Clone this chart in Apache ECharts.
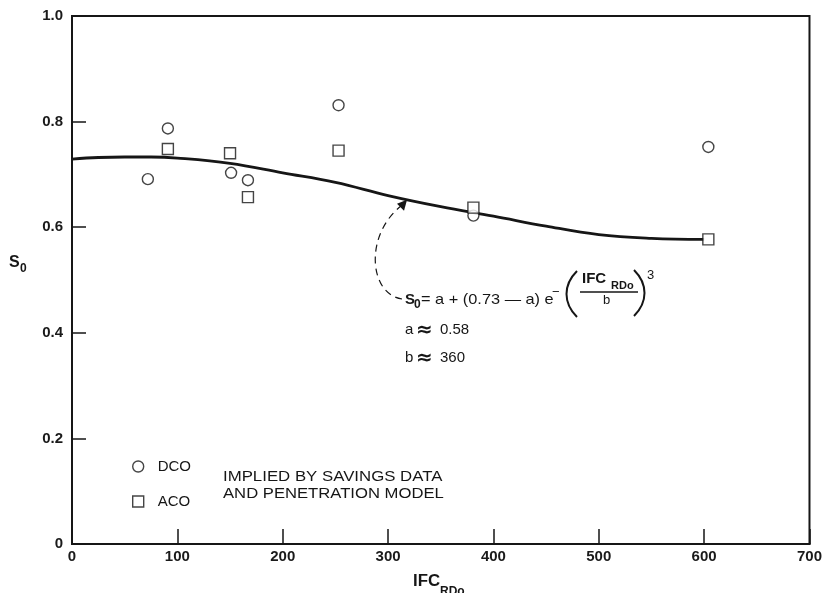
<!DOCTYPE html>
<html>
<head>
<meta charset="utf-8">
<script src="https://cdn.jsdelivr.net/npm/echarts@6/dist/echarts.min.js"></script>
<style>
html,body{margin:0;padding:0;background:#fff;}
#c{width:825px;height:593px;}
</style>
</head>
<body>
<div id="c"></div>
<script>
// ---- data ----
const dcoX = [72, 91, 151, 167, 253, 381, 604];
const dcoY = [0.691, 0.787, 0.703, 0.689, 0.831, 0.622, 0.752];
const acoX = [91, 150, 167, 253, 381, 604];
const acoY = [0.748, 0.740, 0.657, 0.745, 0.637, 0.577];
const curveX = [0, 25, 50, 75, 100, 150, 200, 250, 300, 350, 400, 450, 500, 550, 600];
const curveY = [0.729, 0.732, 0.733, 0.733, 0.731, 0.721, 0.703, 0.685, 0.660, 0.639, 0.621, 0.602, 0.586, 0.579, 0.577];
const xTicks = [0, 100, 200, 300, 400, 500, 600, 700];
const yTickLabels = ['0', '0.2', '0.4', '0.6', '0.8', '1.0'];

const FONT = '"Liberation Sans", Arial, Helvetica, sans-serif';
const INK = '#161616';

const zip = (xs, ys) => xs.map((x, i) => [x, ys[i]]);

const chart = echarts.init(document.getElementById('c'), null, {renderer: 'canvas'});

const option = {
  animation: false,
  backgroundColor: '#fff',
  grid: {left: 72, right: 14, top: 16, bottom: 49, show: true, borderColor: INK, borderWidth: 2, backgroundColor: 'transparent'},
  xAxis: {
    type: 'value', min: 0, max: 700, interval: 100,
    axisLine: {show: true, lineStyle: {color: INK, width: 2}},
    axisTick: {show: true, inside: true, length: 15, lineStyle: {color: INK, width: 1.5}},
    axisLabel: {color: '#1a1a1a', fontFamily: FONT, fontSize: 15, fontWeight: 'bold', margin: 5,
      formatter: v => String(xTicks[xTicks.indexOf(v)])},
    splitLine: {show: false}
  },
  yAxis: {
    type: 'value', min: 0, max: 1, interval: 0.2,
    axisLine: {show: true, lineStyle: {color: INK, width: 2}},
    axisTick: {show: true, inside: true, length: 14, lineStyle: {color: INK, width: 1.5}},
    axisLabel: {color: '#1a1a1a', fontFamily: FONT, fontSize: 15, fontWeight: 'bold', margin: 9,
      formatter: v => yTickLabels[Math.round(v / 0.2)]},
    splitLine: {show: false}
  },
  legend: {
    orient: 'vertical', left: 127, top: 454,
    itemWidth: 11, itemHeight: 11, itemGap: 20,
    textStyle: {color: INK, fontFamily: FONT, fontSize: 15, padding: [0, 0, 0, 9]},
    data: [
      {name: 'DCO', icon: 'circle', itemStyle: {color: '#fff', borderColor: INK, borderWidth: 1.4}},
      {name: 'ACO', icon: 'rect', itemStyle: {color: '#fff', borderColor: INK, borderWidth: 1.4}}
    ]
  },
  series: [
    {
      name: 'fit', type: 'line', smooth: 0.4, symbol: 'none',
      data: zip(curveX, curveY),
      lineStyle: {color: INK, width: 2.8}, z: 2
    },
    {
      name: 'DCO', type: 'scatter', symbol: 'circle', symbolSize: 11,
      data: zip(dcoX, dcoY),
      itemStyle: {color: '#fff', borderColor: INK, borderWidth: 1.4}, z: 3
    },
    {
      name: 'ACO', type: 'scatter', symbol: 'rect', symbolSize: 11,
      data: zip(acoX, acoY),
      itemStyle: {color: '#fff', borderColor: INK, borderWidth: 1.4}, z: 4
    }
  ]
};
chart.setOption(option);

// ---- annotations ----
function t(x, y, text, size, opts) {
  opts = opts || {};
  return {
    type: 'text', x: x, y: y, scaleX: opts.sx || 1, z: 10,
    style: {text: text, fill: INK, fontSize: size, fontFamily: opts.family || FONT,
      fontWeight: opts.bold ? 'bold' : 'normal', verticalAlign: 'middle', align: 'left',
      lineHeight: opts.lh}
  };
}
const tip = chart.convertToPixel({gridIndex: 0}, [318, 0.652]);
const graphics = [
  // y axis title S0
  t(9, 263, 'S', 16, {bold: true}),
  t(20, 269, '0', 12, {bold: true}),
  // x axis title IFC RDo
  t(413, 582, 'IFC', 16, {bold: true, sx: 1.05}),
  t(440, 592, 'RDo', 12, {bold: true}),
  // implied note
  t(223, 477, 'IMPLIED BY SAVINGS DATA', 15, {sx: 1.12}),
  t(223, 494, 'AND PENETRATION MODEL', 15, {sx: 1.11}),
  // formula
  t(405, 300, 'S', 15, {bold: true}),
  t(414, 305, '0', 12, {bold: true}),
  t(421, 300, '= a + (0.73 — a) e', 15, {sx: 1.09}),
  t(552, 292, '−', 13),
  {type: 'bezierCurve', shape: {x1: 577, y1: 271, cpx1: 563, cpy1: 285, cpx2: 563, cpy2: 303, x2: 577, y2: 317},
    style: {stroke: INK, lineWidth: 2, fill: null}},
  {type: 'bezierCurve', shape: {x1: 634, y1: 270, cpx1: 648, cpy1: 284, cpx2: 648, cpy2: 302, x2: 634, y2: 316},
    style: {stroke: INK, lineWidth: 2, fill: null}},
  t(582, 279, 'IFC', 15, {bold: true}),
  t(611, 286, 'RDo', 11, {bold: true}),
  {type: 'line', shape: {x1: 580, y1: 292, x2: 638, y2: 292}, style: {stroke: INK, lineWidth: 1.4}},
  t(603, 300, 'b', 13),
  t(647, 275, '3', 13),
  t(405, 330, 'a', 15),
  t(416, 331, '≈', 20, {bold: true, family: '"DejaVu Sans", sans-serif'}),
  t(440, 330, '0.58', 15),
  t(405, 358, 'b', 15),
  t(416, 359, '≈', 20, {bold: true, family: '"DejaVu Sans", sans-serif'}),
  t(440, 358, '360', 15),
  // dashed arrow
  {type: 'bezierCurve', shape: {x1: 402, y1: 299, cpx1: 368, cpy1: 294, cpx2: 364, cpy2: 232, x2: tip[0] - 3, y2: tip[1] + 4},
    style: {stroke: INK, lineWidth: 1.2, lineDash: [7, 5], fill: null}},
  {type: 'polygon', shape: {points: [[tip[0], tip[1]], [tip[0] - 10, tip[1] + 4], [tip[0] - 3, tip[1] + 11]]}, style: {fill: INK}}
];
chart.setOption({graphic: graphics});
</script>
</body>
</html>
